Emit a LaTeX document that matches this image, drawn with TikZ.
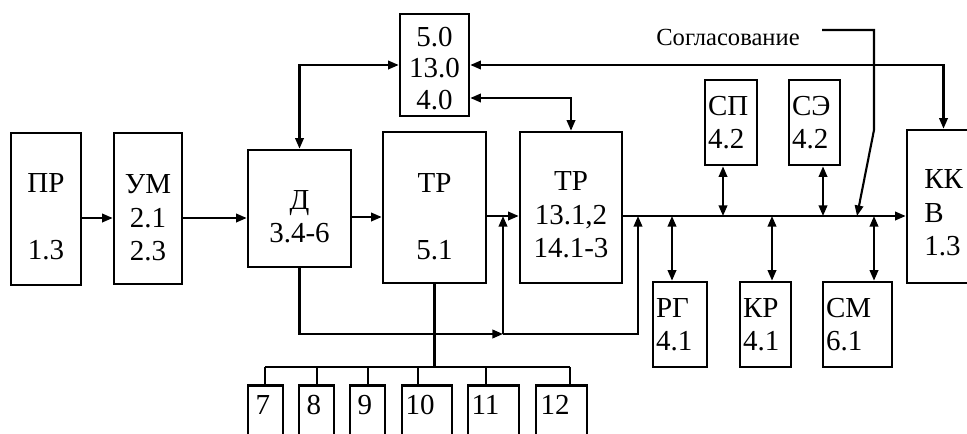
\documentclass[tikz,border=0pt]{standalone}
\usepackage{fontspec}
\setmainfont{Liberation Serif}
\usetikzlibrary{arrows.meta,positioning}
\newcommand{\blkfont}{\fontsize{16.5}{19}\selectfont}

\begin{document}
\begin{tikzpicture}[x=0.02cm,y=-0.02cm,
  blk/.style={draw,line width=1.5pt,inner sep=0pt,align=center,font=\blkfont},
  sblk/.style={blk,align=left,inner xsep=0.06cm,minimum height=1.7cm},
  lbl/.style={inner sep=0pt,align=center,font=\blkfont},
  ln/.style={line width=1.2pt},
  arr/.style={ln,-{Triangle[length=6pt,width=4.8pt]}},
  dbl/.style={ln,{Triangle[length=6pt,width=4.8pt]}-{Triangle[length=6pt,width=4.8pt]}}]
\useasboundingbox (0,0) rectangle (967,433);
\clip (0,0) rectangle (967,433);
\node[blk,minimum width=1.40cm,minimum height=3.04cm] (pr) at (46,209) {};
\node[lbl] (prt) at (46,216.5) {ПР\\[19pt]1.3};
\node[blk,minimum width=1.36cm,minimum height=3.02cm] (um) at (148,208.5) {};
\node[lbl] (umt) at (148,218) {УМ\\2.1\\2.3};
\node[blk,minimum width=2.06cm,minimum height=2.34cm] (d) at (299.5,208.5) {};
\node[lbl] (dt) at (299.5,217) {Д\\3.4-6};
\node[blk,minimum width=2.06cm,minimum height=3.02cm] (tr1) at (434.5,207.5) {};
\node[lbl] (tr1t) at (434.5,216.5) {ТР\\[19pt]5.1};
\node[blk,minimum width=2.04cm,minimum height=3.02cm] (tr2) at (571,207.5) {};
\node[lbl] (tr2t) at (571,215) {ТР\\13.1,2\\14.1-3};
\node[blk,minimum width=1.38cm,minimum height=2.04cm] (top) at (434.5,65) {};
\node[lbl] (topt) at (434.5,68.5) {5.0\\[-1pt]13.0\\[-1pt]4.0};
\node[sblk,text width=0.92cm] (sp) at (731,122.5) {СП\\4.2};
\node[sblk,text width=0.90cm] (se) at (814.5,122.5) {СЭ\\4.2};
\node[sblk,text width=0.96cm] (rg) at (680,324.5) {РГ\\4.1};
\node[sblk,text width=0.90cm] (kr) at (765.5,324.5) {КР\\4.1};
\node[sblk,text width=1.26cm] (cm) at (857.5,324.5) {СМ\\6.1};
\node[blk,minimum width=1.46cm,minimum height=3.06cm] (kkv) at (943.5,206.5) {};
\node[lbl,align=left,anchor=west] (kkvt) at (924,213) {КК\\В\\1.3};
\node[inner sep=0pt,font=\fontsize{14}{17}\selectfont] (sogl) at (728,37) {Согласование};
\foreach \n/\c/\w/\dx in {7/265.5/0.70/0.17,8/316.5/0.70/0.17,9/367.5/0.70/0.17,
  10/427/1.00/0.09,11/493.5/1.02/0.09,12/561.5/1.02/0.11}{
  \node[blk,minimum width=\w cm,minimum height=1.24cm,anchor=north] (n\n) at (\c,384) {};
  \node[lbl,anchor=north west] (t\n) at ([xshift=\dx cm,yshift=-0.22cm]n\n.north west) {\n};
}
\coordinate (busL) at (tr2.east |- 0,216);
\foreach \nm/\x in {rg/672,sp/723,kr/772,se/823,cm/874,sg/857,pa/638}
  \coordinate (b\nm) at (\x,216);
\coordinate (j1) at (503,334);
\coordinate (s0) at (822,30);
\coordinate (s1) at (874,130);
\draw[arr] (pr.east |- 0,218) -- (um.west |- 0,218);
\draw[arr] (um.east |- 0,218) -- (d.west |- 0,218);
\draw[arr] (d.east |- 0,217) -- (tr1.west |- 0,217);
\draw[arr] (tr1.east |- 0,216) -- (tr2.west |- 0,216);
\draw[arr] (busL) -- (kkv.west |- busL);
\draw[dbl] (d.north) |- (top.west);
\draw[dbl] (top.east) -| (kkv.north);
\draw[dbl] (top.east |- 0,98) -| (tr2.north);
\draw[arr] (d.south) |- (j1);
\draw[arr] (j1) -- (j1 |- busL);
\draw[arr] (j1) -| (bpa);
\draw[dbl] (sp.south -| bsp) -- (bsp);
\draw[dbl] (se.south -| bse) -- (bse);
\draw[dbl] (brg) -- (rg.north -| brg);
\draw[dbl] (bkr) -- (kr.north -| bkr);
\draw[dbl] (bcm) -- (cm.north -| bcm);
\draw[arr] (s0) -| (s1) -- (bsg);
\draw[ln] (tr1.south) -- (tr1.south |- 0,367);
\draw[ln] (265,367) -- (570,367);
\foreach \n/\x in {7/265,8/317,9/368,10/418,11/486,12/570}
  \draw[ln] (\x,367) -- (n\n.north -| \x,0);
\end{tikzpicture}
\end{document}
